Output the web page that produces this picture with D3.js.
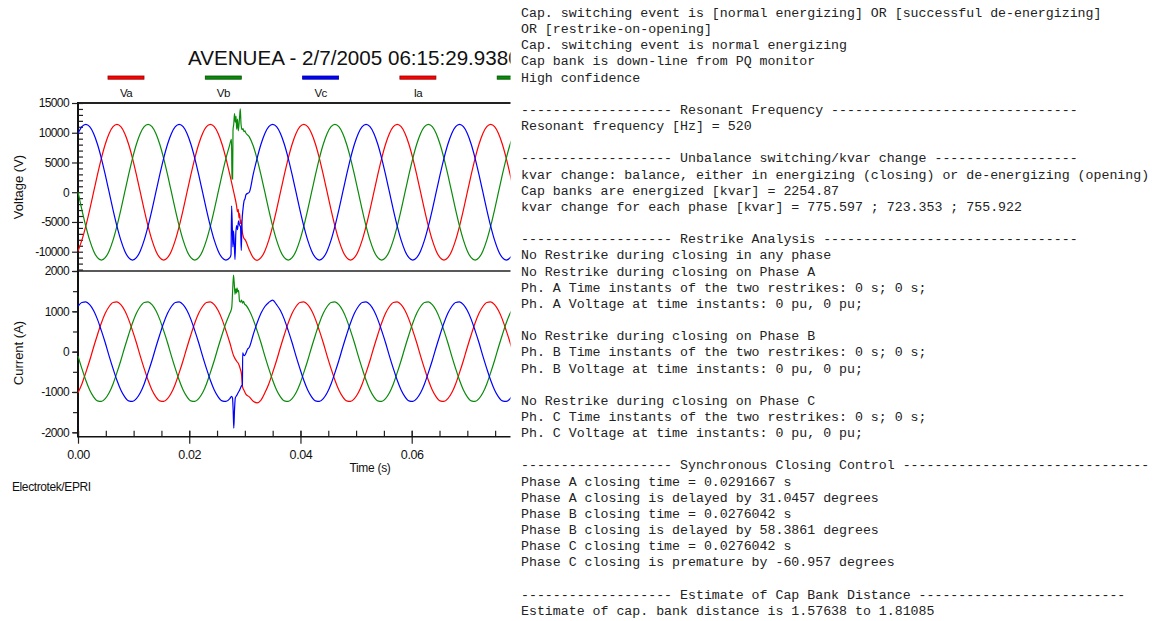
<!DOCTYPE html>
<html><head><meta charset="utf-8">
<script src="https://cdn.jsdelivr.net/npm/d3@7"></script>
<style>
html,body{margin:0;padding:0;background:#fff;}
svg{display:block;}
</style></head>
<body>
<svg id="chart" width="1153" height="621"></svg>
<script>
// ---------------- DATA ----------------
const chartTitle = "AVENUEA - 2/7/2005 06:15:29.9380";
const legendNames = ["Va","Vb","Vc","Ia","Ib","Ic"];
const xTicks = [0, 0.02, 0.04, 0.06];
const vTicks = [-10000, -5000, 0, 5000, 10000, 15000];
const iTicks = [-2000, -1000, 0, 1000, 2000];

const time = [0,0.0007,0.0014,0.0021,0.0028,0.0035,0.0042,0.0049,0.0056,0.0063,
0.007,0.0077,0.0084,0.0091,0.0098,0.0105,0.0112,0.0119,0.0126,0.0133,
0.014,0.0147,0.0154,0.0161,0.0168,0.0175,0.0182,0.0189,0.0196,0.0203,
0.021,0.0217,0.0224,0.0231,0.0238,0.0245,0.0252,0.0259,0.0266,0.0273,
0.028,0.0287,0.0294,0.0301,0.0308,0.0315,0.0322,0.0329,0.0336,0.0343,
0.035,0.0357,0.0364,0.0371,0.0378,0.0385,0.0392,0.0399,0.0406,0.0413,
0.042,0.0427,0.0434,0.0441,0.0448,0.0455,0.0462,0.0469,0.0476,0.0483,
0.049,0.0497,0.0504,0.0511,0.0518,0.0525,0.0532,0.0539,0.0546,0.0553,
0.056,0.0567,0.0574,0.0581,0.0588,0.0595,0.0602,0.0609,0.0616,0.0623,
0.063,0.0637,0.0644,0.0651,0.0658,0.0665,0.0672,0.0679,0.0686,0.0693,
0.07,0.0707,0.0714,0.0721,0.0728,0.0735,0.0742,0.0749,0.0756,0.0763,
0.077,0.0777,0.0784];

const va = [-9870,-8060,-5700,-2950,0,2950,5700,8060,9870,11010,11400,11010,9870,8060,5700,2950,0,-2950,-5700,-8060,-9870,-11010,-11400,-11010,
-9870,-8060,-5700,-2950,0,2950,5700,8060,9870,11010,11400,11010,9870,8060,5700,2950,0,-2950,-5700,-8060,-9700,-11010,-11450,-11010,
-9870,-8060,-5700,-2950,0,2950,5700,8060,9870,11010,11400,11010,9870,8060,5700,2950,0,-2950,-5700,-8060,-9870,-11010,-11400,-11010,
-9870,-8060,-5700,-2950,0,2950,5700,8060,9870,11010,11400,11010,9870,8060,5700,2950,0,-2950,-5700,-8060,-9870,-11010,-11400,-11010,
-9870,-8060,-5700,-2950,0,2950,5700,8060,9870,11010,11400,11010,9870,8060,5700,2950,0];

const vb = [0,-2950,-5700,-8060,-9870,-11010,-11400,-11010,
-9870,-8060,-5700,-2950,0,2950,5700,8060,9870,11010,11400,11010,9870,8060,5700,2950,0,-2950,-5700,-8060,-9870,-11010,-11400,-11010,
-9870,-8060,-5700,-2950,0,2950,5700,8060,9870,11010,11400,10100,9300,7800,5600,2900,0,-2950,-5700,-8060,-9870,-11010,-11400,-11010,
-9870,-8060,-5700,-2950,0,2950,5700,8060,9870,11010,11400,11010,9870,8060,5700,2950,0,-2950,-5700,-8060,-9870,-11010,-11400,-11010,
-9870,-8060,-5700,-2950,0,2950,5700,8060,9870,11010,11400,11010,9870,8060,5700,2950,0,-2950,-5700,-8060,-9870,-11010,-11400,-11010,
-9870,-8060,-5700,-2950,0,2950,5700,8060,9870];

const vc = [9870,11010,11400,11010,9870,8060,5700,2950,0,-2950,-5700,-8060,-9870,-11010,-11400,-11010,
-9870,-8060,-5700,-2950,0,2950,5700,8060,9870,11010,11400,11010,9870,8060,5700,2950,0,-2950,-5700,-8060,-9870,-11010,-11400,-11010,
-9870,-8060,-5700,-2950,0,3000,5700,8060,9870,11010,11400,11010,9870,8060,5700,2950,0,-2950,-5700,-8060,-9870,-11010,-11400,-11010,
-9870,-8060,-5700,-2950,0,2950,5700,8060,9870,11010,11400,11010,9870,8060,5700,2950,0,-2950,-5700,-8060,-9870,-11010,-11400,-11010,
-9870,-8060,-5700,-2950,0,2950,5700,8060,9870,11010,11400,11010,9870,8060,5700,2950,0,-2950,-5700,-8060,-9870,-11010,-11400,-11010,
-9870];

const ia = [-1020,-800,-520,-220,110,420,710,950,1120,1220,1235,1165,1020,800,520,220,-110,-420,-710,-950,-1120,-1220,-1235,-1165,
-1020,-800,-520,-220,110,420,710,950,1120,1220,1235,1165,1020,800,520,220,-110,-420,-710,-950,-1120,-1230,-1270,-1200,
-1020,-800,-520,-220,110,420,710,950,1120,1220,1235,1165,1020,800,520,220,-110,-420,-710,-950,-1120,-1220,-1235,-1165,
-1020,-800,-520,-220,110,420,710,950,1120,1220,1235,1165,1020,800,520,220,-110,-420,-710,-950,-1120,-1220,-1235,-1165,
-1020,-800,-520,-220,110,420,710,950,1120,1220,1235,1165,1020,800,520,220,-110];

const ib = [-110,-420,-710,-950,-1120,-1220,-1235,-1165,
-1020,-800,-520,-220,110,420,710,950,1120,1220,1235,1165,1020,800,520,220,-110,-420,-710,-950,-1120,-1220,-1235,-1165,
-1020,-800,-520,-220,110,420,710,950,1120,1220,1235,1165,1020,800,520,220,-110,-420,-710,-950,-1120,-1220,-1235,-1165,
-1020,-800,-520,-220,110,420,710,950,1120,1220,1235,1165,1020,800,520,220,-110,-420,-710,-950,-1120,-1220,-1235,-1165,
-1020,-800,-520,-220,110,420,710,950,1120,1220,1235,1165,1020,800,520,220,-110,-420,-710,-950,-1120,-1220,-1235,-1165,
-1020,-800,-520,-220,110,420,710,950,1120];

const ic = [1120,1220,1235,1165,1020,800,520,220,-110,-420,-710,-950,-1120,-1220,-1235,-1165,
-1020,-800,-520,-220,110,420,710,950,1120,1220,1235,1165,1020,800,520,220,-110,-420,-710,-950,-1120,-1220,-1235,-1165,
-1020,-800,-520,-220,110,420,710,950,1120,1220,1280,1165,1020,800,520,220,-110,-420,-710,-950,-1120,-1220,-1235,-1165,
-1020,-800,-520,-220,110,420,710,950,1120,1220,1235,1165,1020,800,520,220,-110,-420,-710,-950,-1120,-1220,-1235,-1165,
-1020,-800,-520,-220,110,420,710,950,1120,1220,1235,1165,1020,800,520,220,-110,-420,-710,-950,-1120,-1220,-1235,-1165,
-1020];

// switching transient detail [time, value]
const vaBurst = [[0.02850,-2200],[0.02868,-3300],[0.02882,-2900],[0.02895,-4300],[0.02907,-3600],[0.02920,-5300],[0.02932,-4700],[0.02949,-6300],[0.02976,-7600]];
const vbBurst = [[0.02742,8500],[0.02760,8900],[0.02769,2300],[0.02780,2240],[0.02787,10400],[0.02801,11500],[0.02814,13200],[0.02828,11800],[0.02841,12800],[0.02853,10600],[0.02868,12300],[0.02882,10300],[0.02904,12500],[0.02918,14000],[0.02931,11500],[0.02949,10500],[0.02967,10700],[0.02985,10200],[0.03003,10300]];
const vcBurst = [[0.02751,-10500],[0.02762,-2300],[0.02775,-6000],[0.02785,-9200],[0.02796,-6500],[0.02809,-8500],[0.02823,-11300],[0.02837,-7000],[0.02852,-5600],[0.02868,-6300],[0.02886,-4800],[0.02904,-5500],[0.02922,-5800],[0.02936,-9800],[0.02949,-5000],[0.02967,-2800],[0.02985,-1500],[0.03003,-1100],[0.03021,-400]];
const iaBurst = [[0.02859,-250],[0.02886,-300],[0.02916,-420],[0.02940,-560],[0.02958,-870],[0.02985,-960],[0.03021,-1060]];
const ibBurst = [[0.02751,1020],[0.02765,1100],[0.02780,1500],[0.02796,1900],[0.02809,1700],[0.02823,1420],[0.02834,1560],[0.02847,1450],[0.02859,1580],[0.02874,1480],[0.02888,1520],[0.02904,1250],[0.02922,1230],[0.02940,1280],[0.02958,1200],[0.02976,1250],[0.02994,1180],[0.03021,1150]];
const icBurst = [[0.02760,-1110],[0.02778,-1150],[0.02791,-1500],[0.02801,-1900],[0.02814,-1450],[0.02828,-1150],[0.02847,-1100],[0.02868,-1050],[0.02886,-1000],[0.02904,-960],[0.02922,-900],[0.02940,-850],[0.02956,-820],[0.02961,-30],[0.02976,-80],[0.02994,-100],[0.03012,-60],[0.03030,0],[0.03048,60]];

const reportLines = [
"Cap. switching event is [normal energizing] OR [successful de-energizing]",
"OR [restrike-on-opening]",
"Cap. switching event is normal energizing",
"Cap bank is down-line from PQ monitor",
"High confidence",
"",
"------------------- Resonant Frequency -------------------------------",
"Resonant frequency [Hz] = 520",
"",
"------------------- Unbalance switching/kvar change ------------------",
"kvar change: balance, either in energizing (closing) or de-energizing (opening)",
"Cap banks are energized [kvar] = 2254.87",
"kvar change for each phase [kvar] = 775.597 ; 723.353 ; 755.922",
"",
"------------------- Restrike Analysis --------------------------------",
"No Restrike during closing in any phase",
"No Restrike during closing on Phase A",
"Ph. A Time instants of the two restrikes: 0 s; 0 s;",
"Ph. A Voltage at time instants: 0 pu, 0 pu;",
"",
"No Restrike during closing on Phase B",
"Ph. B Time instants of the two restrikes: 0 s; 0 s;",
"Ph. B Voltage at time instants: 0 pu, 0 pu;",
"",
"No Restrike during closing on Phase C",
"Ph. C Time instants of the two restrikes: 0 s; 0 s;",
"Ph. C Voltage at time instants: 0 pu, 0 pu;",
"",
"------------------- Synchronous Closing Control -------------------------------",
"Phase A closing time = 0.0291667 s",
"Phase A closing is delayed by 31.0457 degrees",
"Phase B closing time = 0.0276042 s",
"Phase B closing is delayed by 58.3861 degrees",
"Phase C closing time = 0.0276042 s",
"Phase C closing is premature by -60.957 degrees",
"",
"------------------- Estimate of Cap Bank Distance --------------------------",
"Estimate of cap. bank distance is 1.57638 to 1.81085"
];

// ---------------- DRAW ----------------
const RED = "#ff0000", GREEN = "#0a8a0a", BLUE = "#0000ff";
const colors = [RED, GREEN, BLUE, RED, GREEN, BLUE];
const legendStroke = ["#900000", "#045004", "#000090", "#900000", "#045004", "#000090"];
const SANS = "'Liberation Sans', Arial, sans-serif";
const CLIP_X = 510.5;

const svg = d3.select("#chart");
svg.append("defs").append("clipPath").attr("id", "leftClip")
  .append("rect").attr("x", 0).attr("y", 0).attr("width", CLIP_X).attr("height", 621);
const g = svg.append("g").attr("clip-path", "url(#leftClip)");

const X0 = 78;
const x = d3.scaleLinear().domain([0, 0.1]).range([X0, X0 + 556.17]);
const yV = d3.scaleLinear().domain([-13245, 15000]).range([271, 103]);
const yI = d3.scaleLinear().domain([-2109, 2000]).range([436.7, 271]);
const xRight = 560;

// title
g.append("text").attr("x", 188).attr("y", 64.5).attr("font-family", SANS)
  .attr("font-size", 20.6).attr("fill", "#111").text(chartTitle);

// legend
const lx = d3.scaleLinear().domain([0, 5]).range([126, 126 + 5 * 97.3]);
const leg = g.selectAll(".leg").data(legendNames).enter().append("g");
leg.append("rect").attr("x", (d, i) => lx(i) - 18).attr("y", 76).attr("width", 36).attr("height", 3.2)
  .attr("fill", (d, i) => colors[i]).attr("stroke", (d, i) => legendStroke[i]).attr("stroke-width", 0.8);
leg.filter((d, i) => lx(i) + 6 < CLIP_X).append("text").attr("x", d => lx(legendNames.indexOf(d))).attr("y", 97).attr("text-anchor", "middle")
  .attr("font-family", SANS).attr("font-size", 11.5).attr("letter-spacing", -0.6).attr("fill", "#111").text(d => d);

// frame lines
g.append("line").attr("x1", X0).attr("x2", xRight).attr("y1", 103).attr("y2", 103).attr("stroke", "#222").attr("stroke-width", 2);
g.append("line").attr("x1", X0).attr("x2", xRight).attr("y1", 271).attr("y2", 271).attr("stroke", "#222").attr("stroke-width", 1.6);

function styleAxis(sel) {
  sel.select(".domain").remove();
  sel.selectAll("line").attr("stroke", "#222").attr("stroke-width", 1.2);
}

// voltage axis
g.append("g").attr("transform", `translate(${X0},0)`)
  .call(d3.axisLeft(yV).tickValues(d3.range(-13000, 15001, 1000)).tickSize(-5).tickFormat(""))
  .call(styleAxis);
const vAx = g.append("g").attr("transform", `translate(${X0},0)`)
  .call(d3.axisLeft(yV).tickValues(vTicks).tickSize(6).tickPadding(3).tickFormat(d => String(d)))
  .call(styleAxis);
vAx.selectAll("text").attr("font-family", SANS).attr("font-size", 12).attr("letter-spacing", -0.6).attr("fill", "#111");

// current axis
g.append("g").attr("transform", `translate(${X0},0)`)
  .call(d3.axisLeft(yI).tickValues(d3.range(-2000, 2001, 500)).tickSize(5).tickFormat(""))
  .call(styleAxis);
const iAx = g.append("g").attr("transform", `translate(${X0},0)`)
  .call(d3.axisLeft(yI).tickValues(iTicks).tickSize(6).tickPadding(3).tickFormat(d => String(d)))
  .call(styleAxis);
iAx.selectAll("text").attr("font-family", SANS).attr("font-size", 12).attr("letter-spacing", -0.6).attr("fill", "#111");

// y axis line
g.append("line").attr("x1", X0).attr("x2", X0).attr("y1", 102).attr("y2", 437.5).attr("stroke", "#111").attr("stroke-width", 2);

// x axis
const xBase = 436.7;
g.append("g").attr("transform", `translate(0,${xBase})`)
  .call(d3.axisBottom(x).tickValues(d3.range(0, 0.1001, 0.005)).tickSize(-6).tickFormat(""))
  .call(styleAxis);
const xAx = g.append("g").attr("transform", `translate(0,${xBase})`)
  .call(d3.axisBottom(x).tickValues(xTicks).tickSize(7).tickPadding(6).tickFormat(d3.format(".2f")))
  .call(styleAxis);
xAx.selectAll(".tick line").attr("y1", -6);
xAx.selectAll("text").attr("font-family", SANS).attr("font-size", 12.5).attr("letter-spacing", -0.4).attr("fill", "#111");
g.append("line").attr("x1", X0).attr("x2", xRight).attr("y1", xBase).attr("y2", xBase).attr("stroke", "#111").attr("stroke-width", 1.6);

// axis titles
g.append("text").attr("transform", "translate(23,187) rotate(-90)").attr("text-anchor", "middle")
  .attr("font-family", SANS).attr("font-size", 13).attr("fill", "#111").text("Voltage (V)");
g.append("text").attr("transform", "translate(23,353) rotate(-90)").attr("text-anchor", "middle")
  .attr("font-family", SANS).attr("font-size", 13).attr("fill", "#111").text("Current (A)");
g.append("text").attr("x", 370).attr("y", 472).attr("text-anchor", "middle")
  .attr("font-family", SANS).attr("font-size", 12).attr("letter-spacing", -0.3).attr("fill", "#111").text("Time (s)");
g.append("text").attr("x", 12).attr("y", 491)
  .attr("font-family", SANS).attr("font-size", 12).attr("letter-spacing", -0.4).attr("fill", "#111").text("Electrotek/EPRI");

// waveforms
function merged(vals, burst) {
  const t0 = burst[0][0], t1 = burst[burst.length - 1][0];
  const pts = time.map((t, i) => [t, vals[i]]).filter(p => p[0] < t0 || p[0] > t1);
  return pts.concat(burst).sort((a, b) => a[0] - b[0]);
}
const lineV = d3.line().x(d => x(d[0])).y(d => yV(d[1])).curve(d3.curveMonotoneX);
const lineI = d3.line().x(d => x(d[0])).y(d => yI(d[1])).curve(d3.curveMonotoneX);

const vSeries = [[va, vaBurst, RED], [vb, vbBurst, GREEN], [vc, vcBurst, BLUE]];
const iSeries = [[ia, iaBurst, RED], [ib, ibBurst, GREEN], [ic, icBurst, BLUE]];
g.selectAll(".vline").data(vSeries).enter().append("path")
  .attr("d", d => lineV(merged(d[0], d[1]))).attr("fill", "none")
  .attr("stroke", d => d[2]).attr("stroke-width", 1.2);
g.selectAll(".iline").data(iSeries).enter().append("path")
  .attr("d", d => lineI(merged(d[0], d[1]))).attr("fill", "none")
  .attr("stroke", d => d[2]).attr("stroke-width", 1.2);

// report text
svg.append("g").selectAll("text").data(reportLines).enter().append("text")
  .attr("x", 521).attr("y", (d, i) => 17 + i * 16.16)
  .attr("font-family", "'Liberation Mono', 'Courier New', monospace").attr("font-size", 13.25)
  .attr("fill", "#222").style("white-space", "pre").text(d => d);
</script>
</body></html>
